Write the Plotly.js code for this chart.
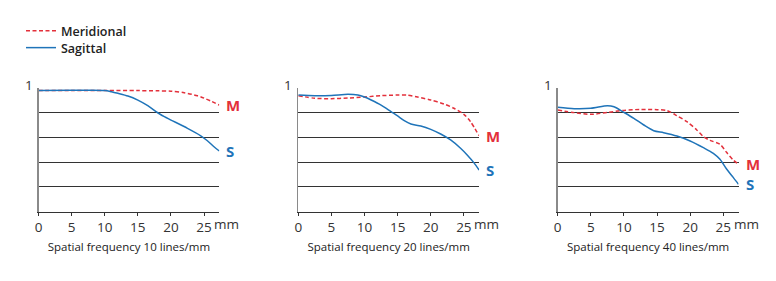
<!DOCTYPE html>
<html>
<head>
<meta charset="utf-8">
<script src="https://cdn.plot.ly/plotly-3.0.1.min.js"></script>
<style>
  html, body { margin: 0; padding: 0; background: #ffffff; }
  #chart { width: 776px; height: 281px; }
</style>
</head>
<body>
<div id="chart"></div>
<script>
// ---- Data ----
const panelTitles = ["Spatial frequency 10 lines/mm", "Spatial frequency 20 lines/mm", "Spatial frequency 40 lines/mm"];
const seriesNames = ["Meridional", "Sagittal"];
const xTickVals = [0, 5, 10, 15, 20, 25];
const xTickText = ["0", "5", "10", "15", "20", "25"];
const yTopLabel = "1";
const unitLabel = "mm";

// 10 lines/mm
const m10x = [0, 5, 10, 15, 18, 20, 22, 24, 25, 26, 27.3];
const m10y = [0.978, 0.978, 0.978, 0.977, 0.975, 0.972, 0.960, 0.935, 0.916, 0.893, 0.860];
const s10x = [0, 5, 10, 11, 12, 13.5, 15, 16.5, 18, 19, 20, 22.5, 24.5, 25.5, 26.5, 27.3];
const s10y = [0.978, 0.979, 0.978, 0.968, 0.955, 0.933, 0.900, 0.855, 0.798, 0.766, 0.739, 0.672, 0.612, 0.572, 0.523, 0.489];

// 20 lines/mm
const m20x = [0, 2.5, 5, 7.5, 10, 12.5, 15, 16.5, 18, 20, 22, 23.5, 25, 26, 27.3];
const m20y = [0.936, 0.915, 0.912, 0.917, 0.925, 0.936, 0.941, 0.941, 0.925, 0.901, 0.869, 0.834, 0.785, 0.726, 0.613];
const s20x = [0, 2.5, 5, 7.5, 9, 10, 11, 12.5, 14, 15, 16, 17, 18.5, 20, 21.5, 23, 24.5, 25.5, 26.5, 27.3];
const s20y = [0.941, 0.936, 0.938, 0.947, 0.941, 0.925, 0.901, 0.860, 0.807, 0.772, 0.734, 0.707, 0.691, 0.664, 0.626, 0.578, 0.511, 0.457, 0.395, 0.335];

// 40 lines/mm
const m40x = [0, 2.5, 5, 7.5, 10, 12.5, 15, 16.5, 18, 19.5, 21, 22, 23, 24.5, 25.5, 26.5, 27.3];
const m40y = [0.820, 0.799, 0.785, 0.801, 0.817, 0.825, 0.823, 0.815, 0.774, 0.726, 0.659, 0.605, 0.575, 0.543, 0.478, 0.416, 0.381];
const s40x = [0, 2.5, 5, 7.5, 8.5, 10, 11.5, 13, 14.5, 16, 18, 20, 22, 23.5, 24.5, 25.5, 26.5, 27.3];
const s40y = [0.842, 0.831, 0.834, 0.855, 0.847, 0.801, 0.753, 0.699, 0.653, 0.637, 0.610, 0.570, 0.516, 0.470, 0.422, 0.343, 0.276, 0.220];

// ---- Styling ----
const RED = "#e3303b";
const BLUE = "#1f74b9";
const FONT = "Open Sans, Noto Sans, sans-serif";
const XMAX = 27.3;

const panels = [
  {mx: m10x, my: m10y, sx: s10x, sy: s10y},
  {mx: m20x, my: m20y, sx: s20x, sy: s20y},
  {mx: m40x, my: m40y, sx: s40x, sy: s40y}
];
const xDomains = [[38.5/776, 219.3/776], [298.3/776, 479.1/776], [557.7/776, 738.5/776]];
const yDomain = [(281-211.5)/281, (281-87.75)/281];

const legendFont = {family: FONT, size: 12.5, color: "#222", weight: 600};
const traces = [];
const layout = {
  width: 776, height: 281,
  margin: {l: 0, r: 0, t: 0, b: 0},
  paper_bgcolor: "#ffffff",
  plot_bgcolor: "#ffffff",
  font: {family: FONT, color: "#222"},
  showlegend: true,
  legend: {
    x: 21/776, y: 1 - 16/281, xanchor: "left", yanchor: "top",
    bgcolor: "rgba(0,0,0,0)", font: legendFont, itemwidth: 30
  },
  legend2: {
    x: 21/776, y: 1 - 33/281, xanchor: "left", yanchor: "top",
    bgcolor: "rgba(0,0,0,0)", font: legendFont, itemwidth: 30
  },
  annotations: [],
  hovermode: false
};

panels.forEach((p, i) => {
  const n = i === 0 ? "" : String(i + 1);
  const xa = "x" + n, ya = "y" + n;
  traces.push({
    x: p.mx, y: p.my, xaxis: xa, yaxis: ya, type: "scatter", mode: "lines",
    name: seriesNames[0], showlegend: i === 0, legend: "legend",
    line: {color: RED, width: 1.5, dash: "4px,2.5px", shape: "spline", smoothing: 0.8}
  });
  traces.push({
    x: p.sx, y: p.sy, xaxis: xa, yaxis: ya, type: "scatter", mode: "lines",
    name: seriesNames[1], showlegend: i === 0, legend: "legend2",
    line: {color: BLUE, width: 1.5, shape: "spline", smoothing: 0.8}
  });

  layout["xaxis" + n] = {
    domain: xDomains[i], anchor: ya, range: [0, XMAX],
    showgrid: false, zeroline: false, showline: true, linecolor: "#333", linewidth: 1,
    ticks: "outside", ticklen: 3, tickcolor: "#333", tickwidth: 1,
    tickvals: xTickVals, ticktext: xTickText,
    tickfont: {family: FONT, size: 13.5, color: "#333"},
    title: {text: panelTitles[i], font: {family: FONT, size: 11.5, color: "#222"}, standoff: 8},
    fixedrange: true
  };
  layout["yaxis" + n] = {
    domain: yDomain, anchor: xa, range: [0, 1],
    showgrid: false, zeroline: false, showline: true, linecolor: "#8a8a8a", linewidth: 1.5,
    ticks: "", showticklabels: false,
    minor: {tickvals: [0.2, 0.4, 0.6, 0.8], showgrid: true, gridcolor: "#333", gridwidth: 1, ticks: ""},
    fixedrange: true
  };

  layout.annotations.push({
    xref: xa + " domain", yref: ya, x: 0, y: 1, xanchor: "right", yanchor: "middle",
    xshift: -4, yshift: 3, text: yTopLabel, showarrow: false,
    font: {family: FONT, size: 13.5, color: "#333"}
  });
  layout.annotations.push({
    xref: xa, yref: ya, x: XMAX, y: p.my[p.my.length - 1], xanchor: "left", yanchor: "middle",
    xshift: 5, text: "M", showarrow: false,
    font: {family: FONT, size: 15, color: RED, weight: "bold"}
  });
  layout.annotations.push({
    xref: xa, yref: ya, x: XMAX, y: p.sy[p.sy.length - 1], xanchor: "left", yanchor: "middle",
    xshift: 5, text: "S", showarrow: false,
    font: {family: FONT, size: 15, color: BLUE, weight: "bold"}
  });
  layout.annotations.push({
    xref: xa + " domain", yref: "paper", x: 0.962, y: (281 - 223.5) / 281,
    xanchor: "left", yanchor: "middle", text: unitLabel, showarrow: false,
    font: {family: FONT, size: 13.5, color: "#333"}
  });
});

Plotly.newPlot("chart", traces, layout, {displayModeBar: false, staticPlot: true});
</script>
</body>
</html>
